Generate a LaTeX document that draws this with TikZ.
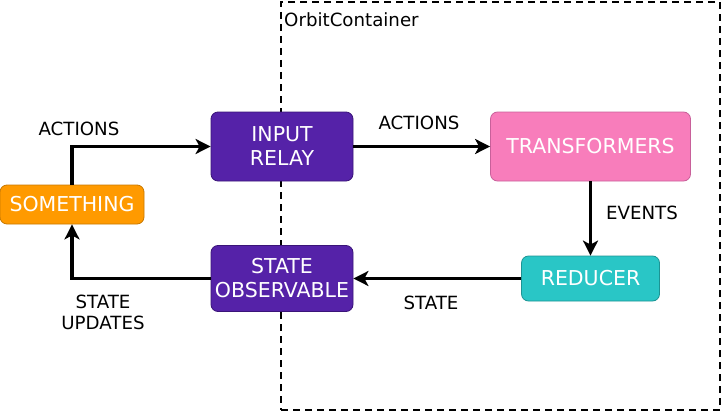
\documentclass[tikz,border=0pt]{standalone}
\usepackage{fontspec}
\setmainfont{DejaVu Sans}
\usetikzlibrary{arrows.meta,positioning}
\definecolor{grape}{HTML}{5522A8}
\definecolor{grapedark}{HTML}{3A1478}
\definecolor{rose}{HTML}{F87DBB}
\definecolor{rosedark}{HTML}{C8609A}
\definecolor{aqua}{HTML}{29C6C6}
\definecolor{aquadark}{HTML}{1C9494}
\definecolor{tangerine}{HTML}{FF9A00}
\definecolor{tangerinedark}{HTML}{C87800}
\tikzset{
  block/.style={rectangle, rounded corners=7pt, line width=0.8pt, text=white, align=center,
                inner sep=0pt, font=\fontsize{20.5}{24}\selectfont},
  relaybox/.style={block, draw=grapedark, fill=grape},
  transbox/.style={block, draw=rosedark, fill=rose},
  reducebox/.style={block, draw=aquadark, fill=aqua},
  somebox/.style={block, draw=tangerinedark, fill=tangerine},
  container/.style={rectangle, draw=black, line width=2pt, dash pattern=on 7pt off 5pt, inner sep=0pt},
  lbl/.style={font=\fontsize{18.2}{21}\selectfont, align=center, inner sep=0pt},
  flow/.style={-{Stealth[length=15pt, width=15pt, inset=4pt]}, draw=black, line width=3.2pt}
}
\begin{document}
\begin{tikzpicture}[x=1pt, y=-1pt]
 \useasboundingbox (0,0) rectangle (722,412);
 \node[container, minimum width=439pt, minimum height=408pt] (orbit) at (500.5,206) {};
 \node[lbl, anchor=west] (orbitlbl) at ([xshift=4pt, yshift=-19pt] orbit.north west) {OrbitContainer};
 \node[somebox, minimum width=144pt, minimum height=39pt] (something) at (72,204.5) {SOMETHING};
 \node[relaybox, minimum width=142pt, minimum height=69pt] (relay) at (282,146.5) {INPUT\\RELAY};
 \node[transbox, minimum width=200pt, minimum height=69pt] (trans) at (590.5,146.5) {TRANSFORMERS};
 \node[reducebox, minimum width=138pt, minimum height=45pt] (reducer) at (590.5,278.5) {REDUCER};
 \node[relaybox, minimum width=142pt, minimum height=66pt] (observable) at (282,278.5) {STATE\\OBSERVABLE};
 \node[lbl] (actA) at (79,129) {ACTIONS};
 \node[lbl] (actB) at (419,123) {ACTIONS};
 \node[lbl] (events) at (642,213) {EVENTS};
 \node[lbl] (state) at (431,303) {STATE};
 \node[lbl] (updates) at (103,312.5) {STATE\\UPDATES};
 \draw[flow] (something.north) |- (relay.west);
 \draw[flow] (relay) -- (trans);
 \draw[flow] (trans) -- (reducer);
 \draw[flow] (reducer) -- (observable);
 \draw[flow] (observable.west) -| (something.south);
\end{tikzpicture}
\end{document}
